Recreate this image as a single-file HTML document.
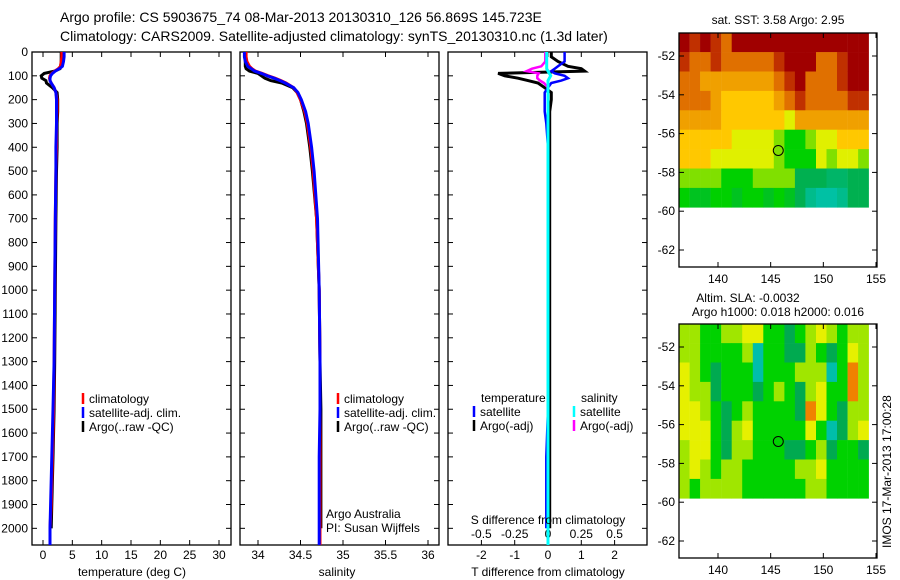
<!DOCTYPE html>
<html><head><meta charset="utf-8">
<style>
body{margin:0;background:#fff;}
svg{display:block;font-family:"Liberation Sans",sans-serif;}
text{font-size:12px;fill:#000;}
</style></head>
<body>
<svg id="fig" width="900" height="580" viewBox="0 0 900 580">
<text x="60" y="22" style="font-size:14px">Argo profile: CS 5903675_74 08-Mar-2013 20130310_126 56.869S 145.723E</text>
<text x="60" y="41" style="font-size:14px">Climatology: CARS2009. Satellite-adjusted climatology: synTS_20130310.nc (1.3d later)</text>
<g id="g"></g>
</svg>
<script>
// ---- data ----
const depths      = [0,20,40,60,70,80,90,100,110,120,130,150,170,200,250,300,400,500,700,1000,1300,1500,1700,1900,2000,2070];
const tempClim    = [3.2,3.2,3.1,3.0,2.6,2.0,1.5,1.2,1.1,1.2,1.4,1.9,2.2,2.4,2.4,2.3,2.3,2.2,2.1,2.0,1.9,1.8,1.6,1.4,1.2,1.2];
const tempSat     = [3.6,3.6,3.5,3.3,2.8,2.1,1.6,1.3,1.2,1.2,1.4,1.9,2.2,2.3,2.3,2.3,2.2,2.2,2.1,2.0,1.9,1.7,1.5,1.3,1.2,1.2];
const tempArgo    = [3.1,3.1,3.1,3.0,2.9,2.0,0.2,-0.3,-0.2,0.5,0.6,1.6,2.4,2.5,2.5,2.4,2.4,2.3,2.2,2.1,2.0,1.9,1.7,1.5,1.4];
const salClim     = [33.86,33.86,33.87,33.9,33.93,33.97,34.05,34.12,34.2,34.27,34.33,34.42,34.46,34.5,34.55,34.58,34.62,34.65,34.69,34.72,34.73,34.73,34.73,34.73,34.73,34.73];
const salSat      = [33.84,33.84,33.85,33.88,33.92,33.96,34.04,34.11,34.19,34.26,34.32,34.42,34.47,34.51,34.56,34.59,34.63,34.66,34.7,34.72,34.73,34.73,34.72,34.72,34.72,34.72];
const salArgo     = [33.85,33.85,33.85,33.85,33.86,33.9,34.0,34.04,34.08,34.15,34.28,34.41,34.46,34.5,34.54,34.57,34.61,34.64,34.69,34.72,34.73,34.74,34.74,34.74,34.74];
const tDiffSat    = [0.5,0.5,0.5,0.3,0.2,0.1,0.2,0.5,0.6,0.4,0.1,0.0,-0.1,-0.1,-0.1,-0.05,0,0,0,0,0,0,-0.05,-0.05,-0.05];
const tDiffArgo   = [0.1,0.1,0.3,0.6,1.0,1.1,-1.5,-1.3,-0.9,-0.6,-0.3,-0.1,0.1,0.1,0.05,0.05,0.05,0.05,0.05,0.05,0.05,0.05,0.05,0.05,0.05];
const sDiffSat    = [-0.01,-0.01,-0.01,-0.01,-0.01,0.0,0.01,0.02,0.01,0.0,0.0,0.0,0.0,0.0,0.0,0.0,0.0,0.0,0.0,0.0,0.0,0.0,0.0,0.0,0.0,0.0];
const sDiffArgo   = [-0.02,-0.02,-0.02,-0.05,-0.12,-0.16,-0.07,-0.08,-0.08,-0.06,-0.03,0.0,0.0,0.0,0.0,0.0,0.0,0.0,0.0,0.0,0.0,0.0,0.0,0.0,0.0];
const depthTicks  = [0,100,200,300,400,500,600,700,800,900,1000,1100,1200,1300,1400,1500,1600,1700,1800,1900,2000];
const tempTicks   = [0,5,10,15,20,25,30];
const salTicks    = [34,34.5,35,35.5,36];
const salTickLbl  = ["34","34.5","35","35.5","36"];
const tDiffTicks  = [-2,-1,0,1,2];
const sDiffTicks  = [-0.5,-0.25,0,0.25,0.5];
const sDiffLbl    = ["-0.5","-0.25","0","0.25","0.5"];
const lonTicks    = [140,145,150,155];
const latTicks    = [-52,-54,-56,-58,-60,-62];
const gridLon0 = 136.3, gridLat0 = -50.8;   // grid origin (1 deg cells)
const sstGrid = [
[6,5.5,6,5.5,5,6,6,6,6,6,6,6,6,6,6,6,6,6],
[5.5,5,5,5.5,5,5,5,5,5,5.5,6,6,6,5,5,5.5,6,6],
[5,5,4.5,4.5,4.5,4.5,4.5,4.5,4.5,5,5.5,6,5,5,5,5.5,6,6],
[5,5,5,4.5,4,4,4,4,4,4.5,5,5.5,5,5,5,5,5.5,5.5],
[4.5,4.5,4.5,4.5,4,4,4,4,4,4,3.5,4.5,4.5,4.5,4.5,4.5,4.5,4.5],
[4,4,4,4,4,3.5,3.5,3.5,3.5,3,2.5,2.5,3,3.5,3.5,4,4,4],
[4,4,4,3.5,3.5,3.5,3.5,3.5,3.5,3,2.5,2.5,2.5,3.5,3,3.5,3.5,3],
[3,3,3,3,2.5,2.5,2.5,3,3,3,3,2,2,2,1.8,1.8,2,2],
[2.5,2.3,2.3,2.5,2.5,2.3,2.5,2.5,2.3,2.5,2.3,2,1.5,1.3,1.3,1.5,2,2]];
const slaGrid = [
[1,1,0,0,1,1,2,2,0,0,-1,0,1,2,1,0,1,1],
[1,1,0,0,0,0,1,-2,0,0,-1,-1,1,0,-1,0,2,1],
[2,1,0,-1,0,0,0,-2,0,0,0,1,1,1,-2,0,3,1],
[2,1,1,-1,0,0,0,-1,0,1,0,-1,1,2,0,0,3,1],
[2,2,1,0,-1,0,1,0,0,0,0,-1,3,2,0,-1,1,1],
[2,2,2,0,-1,1,2,0,0,0,0,0,2,0,-2,-1,1,2],
[1,2,2,0,-1,1,1,0,0,0,-1,-1,0,1,-1,0,0,-1],
[1,2,1,0,1,1,0,0,0,0,0,1,1,2,0,0,0,0],
[1,0,1,1,1,1,0,0,0,0,0,0,1,1,0,0,0,0]];
const argoLon = 145.723, argoLat = -56.869;

// ---- helpers ----
const NS="http://www.w3.org/2000/svg", G=document.getElementById('g');
function el(tag,attrs,parent){const e=document.createElementNS(NS,tag);for(const k in attrs)e.setAttribute(k,attrs[k]);(parent||G).appendChild(e);return e;}
function txt(x,y,s,anchor,name,extra){const t=el('text',Object.assign({x:x,y:y,'text-anchor':anchor||'start'},extra||{}));t.textContent=s;


return t;}
function lin(d0,d1,r0,r1){return v=>r0+(v-d0)*(r1-r0)/(d1-d0);}
const Y=lin(0,2070,52,545);

function panel(x0,x1,name){
  const r=el('rect',{x:x0,y:52,width:x1-x0,height:493,fill:'none',stroke:'#000','stroke-width':1.3});
  
  
}
function yTicks(x0,x1,labels){
  depthTicks.forEach(d=>{const y=Y(d);
    el('line',{x1:x0,x2:x0+5,y1:y,y2:y,stroke:'#000'});el('line',{x1:x1,x2:x1-5,y1:y,y2:y,stroke:'#000'});
    if(labels)txt(x0-4,y+4,String(d),'end','depth-tick-label');});
}
function xTicks(X,ticks,lbls,x0,x1,ly){
  ticks.forEach((t,i)=>{const x=X(t);
    el('line',{x1:x,x2:x,y1:545,y2:540,stroke:'#000'});el('line',{x1:x,x2:x,y1:52,y2:57,stroke:'#000'});
    txt(x,ly,lbls?lbls[i]:String(t),'middle','x-tick-label');});
}
function profile(X,vals,color,name,w){
  const pts=vals.map((v,i)=>X(v).toFixed(1)+','+Y(depths[i]).toFixed(1)).join(' ');
  const p=el('polyline',{points:pts,fill:'none',stroke:color,'stroke-width':w||3});
  
  
}
function legendItem(x,y,color,label){
  el('line',{x1:x,x2:x,y1:y-10,y2:y+1,stroke:color,'stroke-width':2.5});
  txt(x+6,y,label,'start','legend-entry');
}

// Panel 1 temperature
const XT=lin(0,30,43,219);
panel(32,231,'temperature-panel');yTicks(32,231,true);xTicks(XT,tempTicks,null,32,231,559);
profile(XT,tempArgo,'#000','argo-temperature-line',3);
profile(XT,tempClim,'#f00','climatology-temperature-line');
profile(XT,tempSat,'#00f','satellite-temperature-line');
legendItem(83,403,'#f00','climatology');legendItem(83,417,'#00f','satellite-adj. clim.');legendItem(83,431,'#000','Argo(..raw -QC)');
txt(132,576,'temperature (deg C)','middle','temperature-axis-title');

// Panel 2 salinity
const XS=lin(34,36,258,428);
panel(240,439,'salinity-panel');yTicks(240,439,false);xTicks(XS,salTicks,salTickLbl,240,439,559);
profile(XS,salArgo,'#000','argo-salinity-line',3);
profile(XS,salClim,'#f00','climatology-salinity-line');
profile(XS,salSat,'#00f','satellite-salinity-line');
legendItem(338,403,'#f00','climatology');legendItem(338,417,'#00f','satellite-adj. clim.');legendItem(338,431,'#000','Argo(..raw -QC)');
txt(326,518,'Argo Australia','start','credit-argo-australia');txt(326,532,'PI: Susan Wijffels','start','credit-pi');
txt(337,576,'salinity','middle','salinity-axis-title');

// Panel 3 differences
const XD=lin(0,1,548,581.3), XSD=v=>XD(v*4);
panel(448,647,'difference-panel');yTicks(448,647,false);xTicks(XD,tDiffTicks,null,448,647,559);
sDiffTicks.forEach((t,i)=>txt(XSD(t),538,sDiffLbl[i],'middle','s-diff-tick-label'));
profile(XD,tDiffArgo,'#000','argo-t-diff-line',3);
profile(XD,tDiffSat,'#00f','satellite-t-diff-line',2.5);
profile(XSD,sDiffArgo,'#f0f','argo-s-diff-line',2.5);
profile(XSD,sDiffSat,'#0ff','satellite-s-diff-line',3);
txt(481,402,'temperature','start','legend-temperature-header');txt(581,402,'salinity','start','legend-salinity-header');
legendItem(474,416,'#00f','satellite');legendItem(474,430,'#000','Argo(-adj)');
legendItem(574,416,'#0ff','satellite');legendItem(574,430,'#f0f','Argo(-adj)');
txt(548,524,'S difference from climatology','middle','s-diff-axis-title');
txt(548,576,'T difference from climatology','middle','t-diff-axis-title');

// Maps
const LX=lin(140,155,718,876);
function sstColor(v){const s=[[1,[0,200,200]],[2,[0,176,80]],[2.5,[0,208,0]],[3,[128,224,0]],[3.5,[224,240,0]],[4,[255,200,0]],[4.5,[240,160,0]],[5,[224,112,0]],[5.5,[192,48,0]],[6,[160,0,0]]];
  return ramp(s,v);}
function slaColor(v){const s=[[-2,[0,190,170]],[-1,[0,170,80]],[0,[0,210,0]],[1,[160,230,0]],[2,[230,240,0]],[3,[240,130,0]]];return ramp(s,v);}
function ramp(s,v){if(v<=s[0][0])return rgb(s[0][1]);for(let i=1;i<s.length;i++)if(v<=s[i][0]){const f=(v-s[i-1][0])/(s[i][0]-s[i-1][0]);return rgb(s[i-1][1].map((c,k)=>c+f*(s[i][1][k]-c)));}return rgb(s[s.length-1][1]);}
function rgb(c){return 'rgb('+c.map(Math.round).join(',')+')';}
function map(top,grid,colorFn,name){
  const LY=lin(-52,-62,top+23,top+217), bottom=top+234;
  grid.forEach((row,r)=>row.forEach((v,c)=>{
    const x=LX(gridLon0+c), y=LY(gridLat0-r), w=LX(gridLon0+c+1)-x, h=LY(gridLat0-r-1)-y;
    const cell=el('rect',{x:x.toFixed(1),y:y.toFixed(1),width:(Math.min(w,877-x)+0.3).toFixed(1),height:(Math.min(h,LY(-60)-y)+0.3).toFixed(1),fill:colorFn(v)});
    
    
  }));
  const f=el('rect',{x:679,y:top,width:198,height:234,fill:'none',stroke:'#000','stroke-width':1.3});
  
  
  lonTicks.forEach(l=>{const x=LX(l);el('line',{x1:x,x2:x,y1:bottom,y2:bottom-5,stroke:'#000'});el('line',{x1:x,x2:x,y1:top,y2:top+5,stroke:'#000'});txt(x,bottom+16,String(l),'middle','lon-tick-label');});
  latTicks.forEach(l=>{const y=LY(l);el('line',{x1:679,x2:684,y1:y,y2:y,stroke:'#000'});el('line',{x1:877,x2:872,y1:y,y2:y,stroke:'#000'});txt(675,y+4,String(l),'end','lat-tick-label');});
  const m=el('circle',{cx:LX(argoLon),cy:LY(argoLat),r:5,fill:'none',stroke:'#000','stroke-width':1});
  
  
}
map(33,sstGrid,sstColor,'sst-map');
txt(778,24,'sat. SST: 3.58 Argo: 2.95','middle','sst-map-title');
map(324,slaGrid,slaColor,'sla-map');
txt(748,302,'Altim. SLA: -0.0032','middle','sla-map-title');
txt(778,316,'Argo h1000: 0.018 h2000: 0.016','middle','sla-map-subtitle');
txt(0,0,'IMOS 17-Mar-2013 17:00:28','start','imos-timestamp',{transform:'translate(891,548) rotate(-90)'});
</script>
</body></html>
